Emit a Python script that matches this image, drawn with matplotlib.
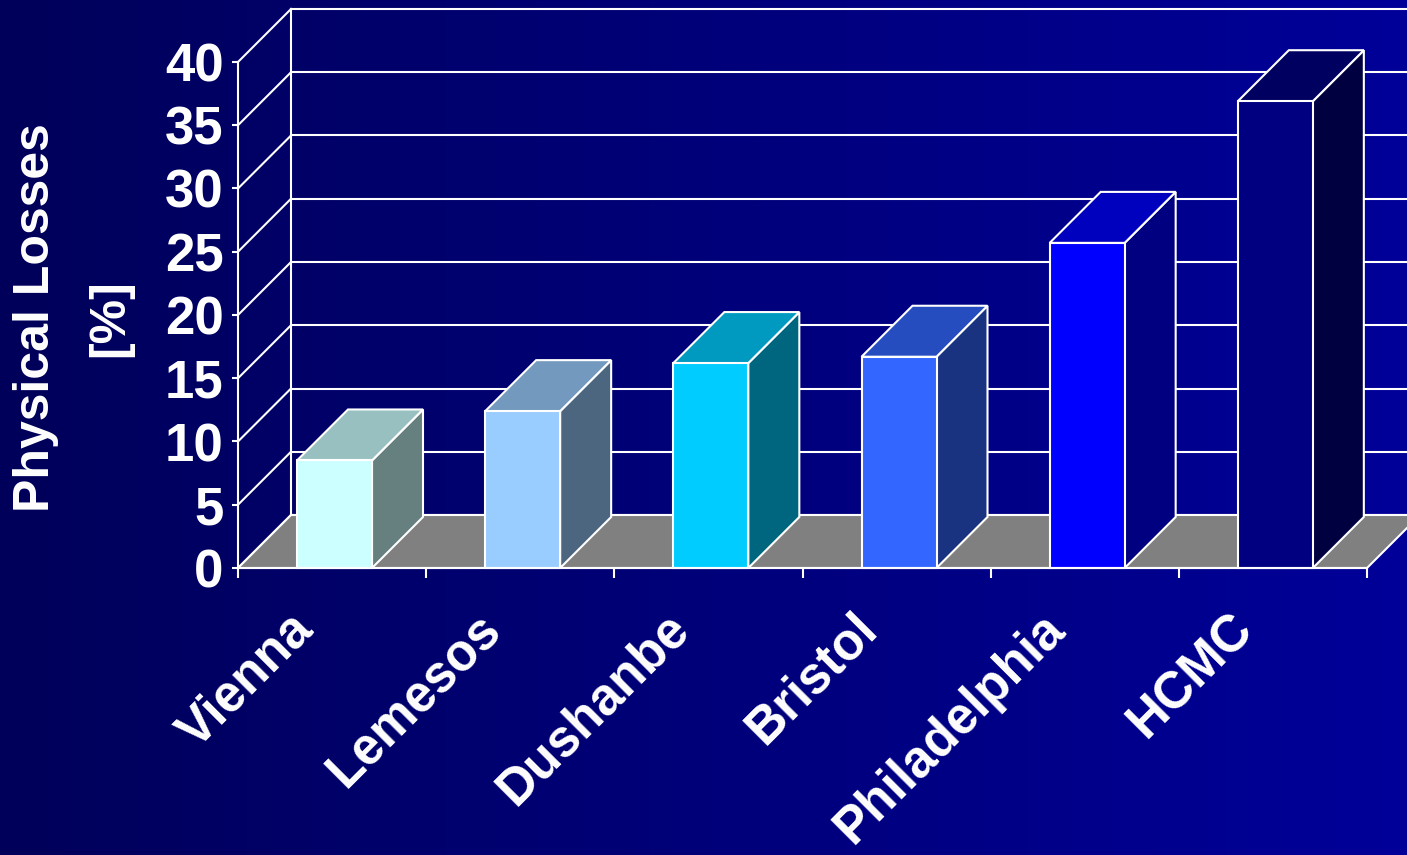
import numpy as np
import matplotlib.pyplot as plt
from matplotlib.patches import Polygon

cities = ['Vienna', 'Lemesos', 'Dushanbe', 'Bristol', 'Philadelphia', 'HCMC']
losses = [8.5, 12.4, 16.2, 16.7, 25.7, 36.9]
front_colors = ['#CCFFFF', '#99CCFF', '#00CCFF', '#3366FF', '#0000FF', '#000080']
top_colors = ['#99C0C0', '#7399BF', '#0099BF', '#264DBF', '#0000BF', '#000060']
side_colors = ['#668080', '#4D6680', '#006680', '#1A3380', '#000080', '#000040']
yticks = [0, 5, 10, 15, 20, 25, 30, 35, 40]

W, H = 1407, 855
fig = plt.figure(figsize=(W / 100, H / 100), dpi=100)

# background gradient
bg = fig.add_axes([0, 0, 1, 1], zorder=0)
grad = np.linspace(0, 1, 256).reshape(1, -1)
c0 = np.array([0x00, 0x00, 0x5A]) / 255
c1 = np.array([0x00, 0x00, 0x99]) / 255
img = c0[None, None, :] + grad[..., None] * (c1 - c0)[None, None, :]
bg.imshow(img, aspect='auto', extent=[0, 1, 0, 1])
bg.set_axis_off()

# front plane of the plot: x in categories, y in %
x0, x1, y0, y1 = 238, 1367, 568, 62
ax = fig.add_axes([x0 / W, 1 - y0 / H, (x1 - x0) / W, (y0 - y1) / H], zorder=1)
ax.patch.set_visible(False)
ax.set_xlim(0, len(cities))
ax.set_ylim(0, 40)
for s in ['top', 'right', 'bottom']:
    ax.spines[s].set_visible(False)
ax.spines['left'].set_color('white')
ax.spines['left'].set_linewidth(1.5)

px_x = (x1 - x0) / len(cities)   # pixels per category
px_y = (y0 - y1) / 40.0          # pixels per %
ddx = 53 / px_x                  # wall depth in data units
ddy = 53 / px_y
bdx = 51 / px_x                  # bar depth
bdy = 51 / px_y

lc = 'white'
lw = 1.5
xr = len(cities) + 2 * ddx

# side wall diagonals and back wall gridlines
for t in yticks:
    ax.plot([0, ddx], [t, t + ddy], color=lc, lw=lw, clip_on=False, zorder=1)
    ax.plot([ddx, xr], [t + ddy, t + ddy], color=lc, lw=lw, clip_on=False, zorder=1)
ax.plot([ddx, ddx], [ddy, 40 + ddy], color=lc, lw=lw, clip_on=False, zorder=1)

# floor
floor = Polygon([(0, 0), (len(cities), 0), (len(cities) + ddx, ddy), (ddx, ddy)],
                closed=True, facecolor='#808080', edgecolor=lc, lw=lw,
                clip_on=False, zorder=2)
ax.add_patch(floor)

# bars
bw = 75 / px_x
boff = 59 / px_x
for i, v in enumerate(losses):
    l = i + boff
    r = l + bw
    side = Polygon([(r, 0), (r + bdx, bdy), (r + bdx, v + bdy), (r, v)],
                   facecolor=side_colors[i], edgecolor=lc, lw=lw, clip_on=False, zorder=3)
    top = Polygon([(l, v), (r, v), (r + bdx, v + bdy), (l + bdx, v + bdy)],
                  facecolor=top_colors[i], edgecolor=lc, lw=lw, clip_on=False, zorder=3)
    front = Polygon([(l, 0), (r, 0), (r, v), (l, v)],
                    facecolor=front_colors[i], edgecolor=lc, lw=lw, clip_on=False, zorder=4)
    ax.add_patch(side)
    ax.add_patch(top)
    ax.add_patch(front)

ax.plot([0, len(cities)], [0, 0], color=lc, lw=lw, clip_on=False, zorder=5)

ax.set_yticks(yticks)
ax.set_yticklabels([str(t) for t in yticks])
ax.tick_params(axis='y', colors='white', length=4.5, width=1.5, pad=6,
               labelsize=38)
ax.set_xticks(range(len(cities) + 1))
ax.set_xticklabels([])
ax.tick_params(axis='x', colors='white', length=7, width=1.5, direction='out')
ax.spines['bottom'].set_visible(False)
for lab in ax.get_yticklabels():
    lab.set_fontweight('bold')
    lab.set_family('Liberation Sans')

for i, name in enumerate(cities):
    ax.annotate(name, xy=(i + 0.5, 0), xytext=(-32, -26), textcoords='offset points',
                rotation=45, ha='right', va='top', rotation_mode='anchor',
                fontsize=37, fontweight='bold', color='white', family='Liberation Sans',
                annotation_clip=False)

fig.text(36 / W, 1 - 318 / H, 'Physical Losses', rotation=90, ha='center', va='center',
         fontsize=36, fontweight='bold', color='white', family='Liberation Sans')
fig.text(110 / W, 1 - 318 / H, '[%]', rotation=90, ha='center', va='center',
         fontsize=36, fontweight='bold', color='white', family='Liberation Sans')

fig.savefig('out.png', dpi=100)
